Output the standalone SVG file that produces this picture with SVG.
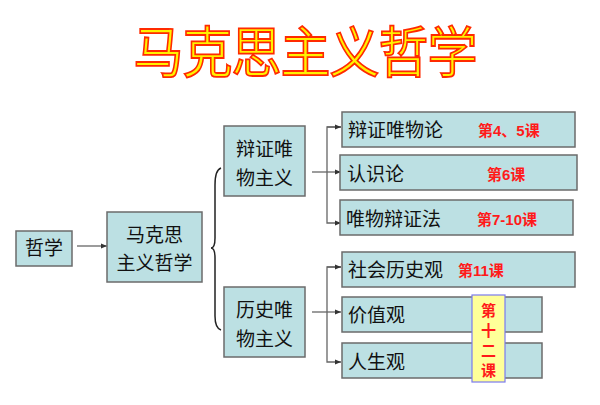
<svg xmlns="http://www.w3.org/2000/svg" width="600" height="405" viewBox="0 0 600 405">
<defs>
<style>
.box{fill:#BCE0E3;stroke:#6b6b6b;stroke-width:1.5}
.t{font-family:"Noto Sans CJK SC","Liberation Sans",sans-serif;font-size:19px;fill:#111}
.c{text-anchor:middle}
.r{font-family:"Liberation Sans","Noto Sans CJK SC",sans-serif;font-size:15px;font-weight:bold;fill:#FF1A1A}
.ln{fill:none;stroke:#666;stroke-width:1.3}
.title{font-family:"Noto Sans CJK SC",sans-serif;font-size:50px;fill:#FFF200;stroke:#FF2A00;stroke-width:1.6}
</style>
<marker id="ah" viewBox="0 0 6 6" refX="6" refY="3" markerWidth="5" markerHeight="5" orient="auto">
<path d="M0,0.5 L6,3 L0,5.5 z" fill="#333"/>
</marker>
</defs>
<rect width="600" height="405" fill="#fff"/>
<g id="title">
<text class="title" x="305" y="72" text-anchor="middle" letter-spacing="-1" transform="translate(0,-7) scale(1,1.1)">马克思主义哲学</text>
</g>
<g id="connectors">
<line class="ln" x1="77" y1="246" x2="107" y2="246" marker-end="url(#ah)"/>
<path d="M221,168 Q215,170 215,185 L215,238 Q215,248 211,248 Q215,248 215,258 L215,316 Q215,328 221,330" fill="none" stroke="#222" stroke-width="1.5"/>
<line class="ln" x1="312" y1="172" x2="341" y2="172" marker-end="url(#ah)"/>
<path class="ln" d="M341,127 L327,127 L327,223 L341,223" marker-end="url(#ah)"/>
<line class="ln" x1="327" y1="127" x2="341" y2="127" marker-end="url(#ah)"/>
<line class="ln" x1="312" y1="312" x2="341" y2="312" marker-end="url(#ah)"/>
<path class="ln" d="M341,267 L327,267 L327,362 L341,362" marker-end="url(#ah)"/>
<line class="ln" x1="327" y1="267" x2="341" y2="267" marker-end="url(#ah)"/>
</g>
<g id="zhexue">
<rect class="box" x="16" y="231" width="56" height="35"/>
<text class="t c" x="44" y="255">哲学</text>
</g>
<g id="makesi">
<rect class="box" x="107" y="212" width="95" height="70"/>
<text class="t c" x="154.5" y="242">马克思</text>
<text class="t c" x="154.5" y="270">主义哲学</text>
</g>
<g id="bianzheng">
<rect class="box" x="224" y="126" width="81" height="70"/>
<text class="t c" x="264.5" y="156">辩证唯</text>
<text class="t c" x="264.5" y="185">物主义</text>
</g>
<g id="lishi">
<rect class="box" x="224" y="287" width="81" height="70"/>
<text class="t c" x="264.5" y="317">历史唯</text>
<text class="t c" x="264.5" y="346">物主义</text>
</g>
<g id="n1">
<rect class="box" x="342" y="112" width="233" height="35"/>
<text class="t" x="348" y="137">辩证唯物论</text>
<text class="r" x="478" y="136">第4、5课</text>
</g>
<g id="n2">
<rect class="box" x="340" y="155" width="237" height="35"/>
<text class="t" x="347" y="181">认识论</text>
<text class="r" x="487" y="180">第6课</text>
</g>
<g id="n3">
<rect class="box" x="340" y="200" width="233" height="35"/>
<text class="t" x="346" y="226">唯物辩证法</text>
<text class="r" x="477" y="225">第7-10课</text>
</g>
<g id="n4">
<rect class="box" x="342" y="252" width="233" height="35"/>
<text class="t" x="348" y="277">社会历史观</text>
<text class="r" x="458" y="276">第11课</text>
</g>
<g id="n5">
<rect class="box" x="342" y="297" width="200" height="35"/>
<text class="t" x="348" y="322">价值观</text>
</g>
<g id="n6">
<rect class="box" x="342" y="343" width="200" height="35"/>
<text class="t" x="348" y="369">人生观</text>
</g>
<g id="di12">
<rect x="472" y="295" width="33" height="87" fill="#FFFF99" stroke="#7B7BEF" stroke-width="1.2"/>
<text class="r c" x="488.5" y="316" font-size="17">第</text>
<text class="r c" x="488.5" y="336" font-size="17">十</text>
<text class="r c" x="488.5" y="356" font-size="17">二</text>
<text class="r c" x="488.5" y="376" font-size="17">课</text>
</g>
</svg>
